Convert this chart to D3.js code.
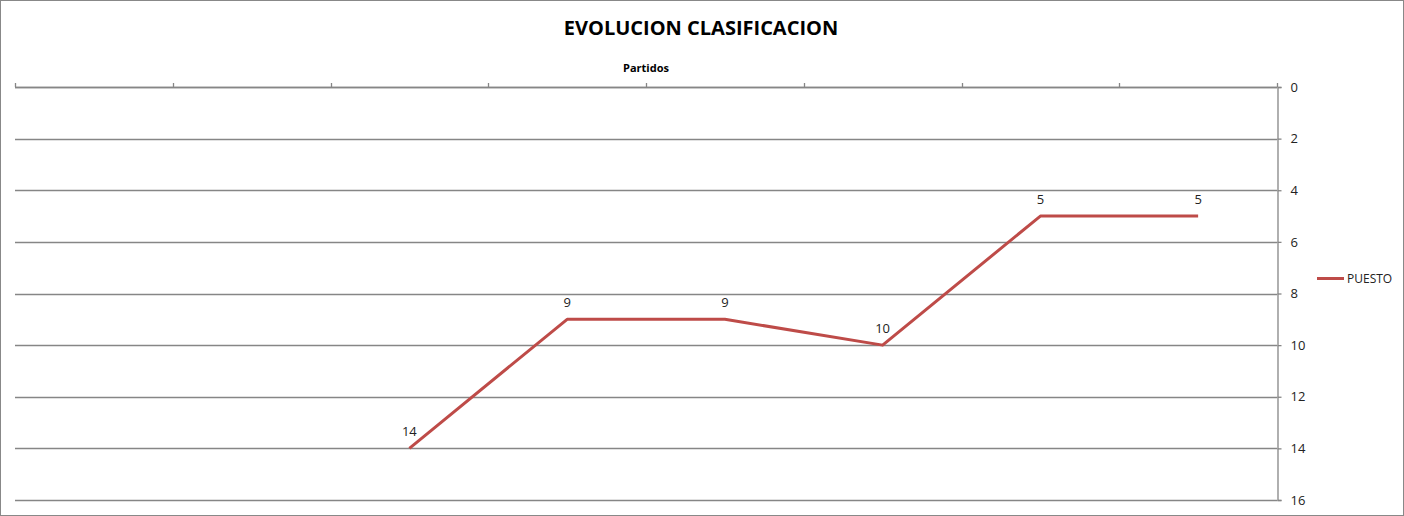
<!DOCTYPE html>
<html><head><meta charset="utf-8">
<script src="https://cdn.jsdelivr.net/npm/d3@7"></script>
<style>html,body{margin:0;padding:0;background:#fff;}svg{display:block;font-family:"Open Sans","Noto Sans",sans-serif;}</style>
</head><body>
<svg id="c" width="1404" height="516"></svg>
<script>
const categories = ["1","2","3","4","5","6","7","8"];
const puesto = [null, null, 14, 9, 9, 10, 5, 5];
const yTicks = [0,2,4,6,8,10,12,14,16];
const titleText = "EVOLUCION CLASIFICACION";
const xTitle = "Partidos";
const seriesName = "PUESTO";

(function(){
const svg = d3.select("#c");
const W = 1404, H = 516;
const pL = 15, pR = 1277, pT = 87, pB = 500;
const grid = "#868686", red = "#BE4B48";

svg.append("rect").attr("x",0.5).attr("y",0.5).attr("width",W-1).attr("height",H-1)
  .attr("fill","#fff").attr("stroke","#888").attr("stroke-width",1);

const x = d3.scaleBand().domain(categories).range([pL,pR]).padding(0);
const y = d3.scaleLinear().domain([0,16]).range([pT,pB]);

// gridlines
svg.append("g").selectAll("line").data(yTicks).join("line")
  .attr("x1",pL).attr("x2",pR)
  .attr("y1",d=>Math.round(y(d))+0.5).attr("y2",d=>Math.round(y(d))+0.5)
  .attr("stroke",grid).attr("stroke-width",1.3);

// y axis at right
const yAxis = svg.append("g").attr("transform",`translate(${pR+0.5},0)`)
  .call(d3.axisRight(y).tickValues(yTicks).tickSize(4).tickPadding(9).tickFormat(d3.format("d")));
yAxis.select(".domain").attr("stroke",grid).attr("stroke-width",1.3);
yAxis.selectAll(".tick line").attr("stroke",grid).attr("stroke-width",1.3);
yAxis.selectAll(".tick text").attr("font-size",13).attr("fill","#222")
  .attr("font-family","'Open Sans','Noto Sans',sans-serif");

// x axis at top, ticks at category boundaries
const bounds = categories.map(c=>x(c)).concat([pR]);
const xg = svg.append("g");
xg.append("line").attr("x1",pL).attr("x2",pR).attr("y1",pT+0.5).attr("y2",pT+0.5)
  .attr("stroke",grid).attr("stroke-width",1.3);
xg.selectAll("line.t").data(bounds).join("line").attr("class","t")
  .attr("x1",d=>Math.round(d)+0.5).attr("x2",d=>Math.round(d)+0.5)
  .attr("y1",pT-4).attr("y2",pT).attr("stroke",grid).attr("stroke-width",1.3);

// line
const pts = categories.map((c,i)=>({c,v:puesto[i]})).filter(d=>d.v!=null);
const line = d3.line().x(d=>x(d.c)+x.bandwidth()/2).y(d=>y(d.v));
svg.append("path").datum(pts).attr("d",line).attr("fill","none")
  .attr("stroke",red).attr("stroke-width",3).attr("stroke-linejoin","round");

svg.append("g").selectAll("text").data(pts).join("text")
  .attr("x",d=>x(d.c)+x.bandwidth()/2).attr("y",d=>y(d.v)-12)
  .attr("text-anchor","middle").attr("font-size",13).attr("fill","#222")
  .text(d=>d.v);

// titles
svg.append("text").attr("x",701).attr("y",35).attr("text-anchor","middle")
  .attr("font-size",20).attr("font-weight","bold").attr("fill","#000").text(titleText);
svg.append("text").attr("x",646).attr("y",72).attr("text-anchor","middle")
  .attr("font-size",11).attr("font-weight","bold").attr("fill","#000").text(xTitle);

// legend
svg.append("line").attr("x1",1317).attr("x2",1344).attr("y1",278.5).attr("y2",278.5)
  .attr("stroke",red).attr("stroke-width",3);
svg.append("text").attr("x",1347).attr("y",283).attr("font-size",12).attr("fill","#222").text(seriesName);
})();
</script>
</body></html>
